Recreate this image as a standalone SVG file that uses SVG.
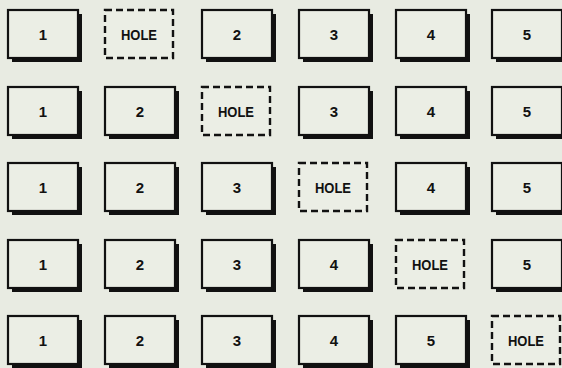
<svg xmlns="http://www.w3.org/2000/svg" xmlns:xlink="http://www.w3.org/1999/xlink" width="562" height="368" viewBox="0 0 562 368">
<style>
.bg{fill:#e8ebe2}
.shadow{fill:#111}
.box{fill:#ebeee5;stroke:#111;stroke-width:2.2}
.hole{fill:#ebeee5;stroke:#111;stroke-width:2.4;stroke-dasharray:7 4}
.lbl{font-family:"Liberation Sans",Arial,sans-serif;font-weight:bold;font-size:15px;fill:#111;text-anchor:middle;dominant-baseline:central}
</style>
<defs>
<g id="box">
<rect class="shadow" x="4" y="4" width="70" height="48"/>
<rect class="box" x="0" y="0" width="70" height="48"/>
</g>
<rect id="holebox" class="hole" x="0" y="0" width="68" height="48"/>
</defs>
<rect class="bg" x="0" y="0" width="562" height="368"/>
<g id="row1">
<g id="r1c1" transform="translate(8,10)"><use xlink:href="#box"/><text class="lbl" x="35" y="24">1</text></g>
<g id="r1c2" transform="translate(105,10)"><use xlink:href="#holebox"/><text class="lbl" x="34" y="24" textLength="36" lengthAdjust="spacingAndGlyphs">HOLE</text></g>
<g id="r1c3" transform="translate(202,10)"><use xlink:href="#box"/><text class="lbl" x="35" y="24">2</text></g>
<g id="r1c4" transform="translate(299,10)"><use xlink:href="#box"/><text class="lbl" x="35" y="24">3</text></g>
<g id="r1c5" transform="translate(396,10)"><use xlink:href="#box"/><text class="lbl" x="35" y="24">4</text></g>
<g id="r1c6" transform="translate(492,10)"><use xlink:href="#box"/><text class="lbl" x="35" y="24">5</text></g>
</g>
<g id="row2">
<g id="r2c1" transform="translate(8,87)"><use xlink:href="#box"/><text class="lbl" x="35" y="24">1</text></g>
<g id="r2c2" transform="translate(105,87)"><use xlink:href="#box"/><text class="lbl" x="35" y="24">2</text></g>
<g id="r2c3" transform="translate(202,87)"><use xlink:href="#holebox"/><text class="lbl" x="34" y="24" textLength="36" lengthAdjust="spacingAndGlyphs">HOLE</text></g>
<g id="r2c4" transform="translate(299,87)"><use xlink:href="#box"/><text class="lbl" x="35" y="24">3</text></g>
<g id="r2c5" transform="translate(396,87)"><use xlink:href="#box"/><text class="lbl" x="35" y="24">4</text></g>
<g id="r2c6" transform="translate(492,87)"><use xlink:href="#box"/><text class="lbl" x="35" y="24">5</text></g>
</g>
<g id="row3">
<g id="r3c1" transform="translate(8,163)"><use xlink:href="#box"/><text class="lbl" x="35" y="24">1</text></g>
<g id="r3c2" transform="translate(105,163)"><use xlink:href="#box"/><text class="lbl" x="35" y="24">2</text></g>
<g id="r3c3" transform="translate(202,163)"><use xlink:href="#box"/><text class="lbl" x="35" y="24">3</text></g>
<g id="r3c4" transform="translate(299,163)"><use xlink:href="#holebox"/><text class="lbl" x="34" y="24" textLength="36" lengthAdjust="spacingAndGlyphs">HOLE</text></g>
<g id="r3c5" transform="translate(396,163)"><use xlink:href="#box"/><text class="lbl" x="35" y="24">4</text></g>
<g id="r3c6" transform="translate(492,163)"><use xlink:href="#box"/><text class="lbl" x="35" y="24">5</text></g>
</g>
<g id="row4">
<g id="r4c1" transform="translate(8,240)"><use xlink:href="#box"/><text class="lbl" x="35" y="24">1</text></g>
<g id="r4c2" transform="translate(105,240)"><use xlink:href="#box"/><text class="lbl" x="35" y="24">2</text></g>
<g id="r4c3" transform="translate(202,240)"><use xlink:href="#box"/><text class="lbl" x="35" y="24">3</text></g>
<g id="r4c4" transform="translate(299,240)"><use xlink:href="#box"/><text class="lbl" x="35" y="24">4</text></g>
<g id="r4c5" transform="translate(396,240)"><use xlink:href="#holebox"/><text class="lbl" x="34" y="24" textLength="36" lengthAdjust="spacingAndGlyphs">HOLE</text></g>
<g id="r4c6" transform="translate(492,240)"><use xlink:href="#box"/><text class="lbl" x="35" y="24">5</text></g>
</g>
<g id="row5">
<g id="r5c1" transform="translate(8,316)"><use xlink:href="#box"/><text class="lbl" x="35" y="24">1</text></g>
<g id="r5c2" transform="translate(105,316)"><use xlink:href="#box"/><text class="lbl" x="35" y="24">2</text></g>
<g id="r5c3" transform="translate(202,316)"><use xlink:href="#box"/><text class="lbl" x="35" y="24">3</text></g>
<g id="r5c4" transform="translate(299,316)"><use xlink:href="#box"/><text class="lbl" x="35" y="24">4</text></g>
<g id="r5c5" transform="translate(396,316)"><use xlink:href="#box"/><text class="lbl" x="35" y="24">5</text></g>
<g id="r5c6" transform="translate(492,316)"><use xlink:href="#holebox"/><text class="lbl" x="34" y="24" textLength="36" lengthAdjust="spacingAndGlyphs">HOLE</text></g>
</g>
<g id="connectors"/>
</svg>
